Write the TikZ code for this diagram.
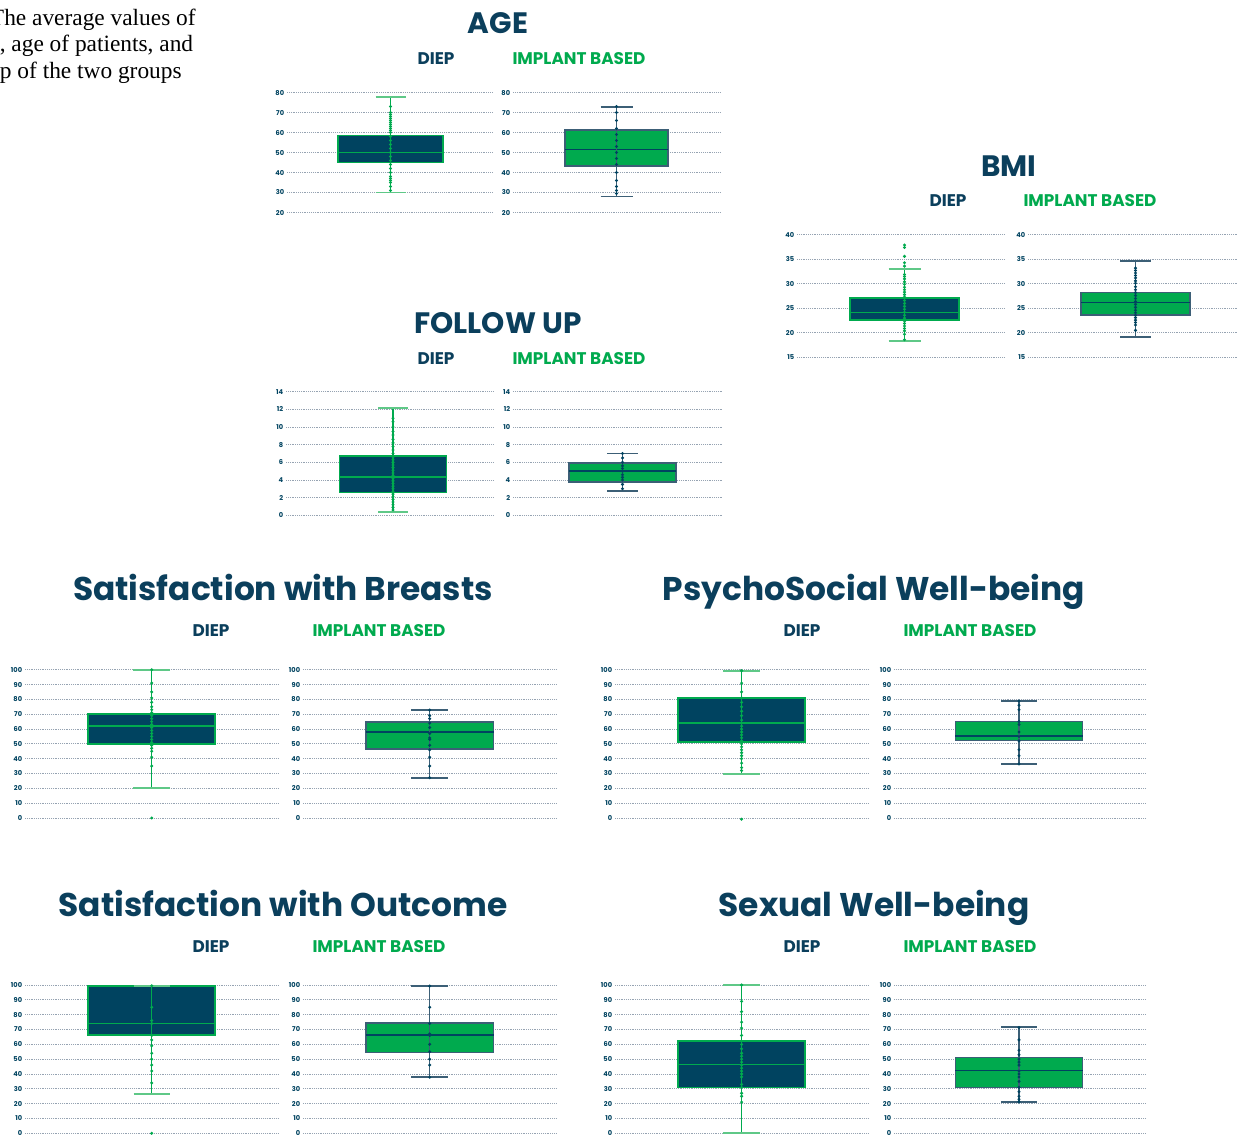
\documentclass[tikz,border=0pt]{standalone}
\usepackage{fontspec}
\setmainfont{Liberation Serif}
\setsansfont{Poppins}
\usepackage{tikz}
\usetikzlibrary{positioning}
\definecolor{DiepBlue}{RGB}{0,67,96}
\definecolor{TitleBlue}{RGB}{11,63,92}
\definecolor{ImplGreen}{RGB}{0,170,78}
\definecolor{CapGreen}{RGB}{95,200,135}
\definecolor{SlateLine}{RGB}{60,95,118}
\definecolor{GridGray}{RGB}{150,163,178}
\tikzset{
  % panel titles (mixed case and all caps)
  ptitle/.style={font=\sffamily\bfseries\fontsize{18.7}{21}\selectfont, text=TitleBlue, inner sep=0pt, anchor=base},
  ctitle/.style={ptitle, font=\sffamily\bfseries\fontsize{16.8}{19}\selectfont},
  % group headers
  gdiep/.style={font=\sffamily\bfseries\fontsize{9.6}{11}\selectfont, text=TitleBlue, inner sep=0pt},
  gimpl/.style={font=\sffamily\bfseries\fontsize{9.6}{11}\selectfont, text=ImplGreen, inner sep=0pt},
  % axis
  ticklabel/.style={font=\sffamily\bfseries\fontsize{3.8}{4}\selectfont, text=DiepBlue, inner sep=0pt, anchor=east},
  gridline/.style={draw=GridGray, line width=0.45pt, dash pattern=on 0.45pt off 0.6pt},
  % caption lines
  capline/.style={font=\fontsize{13.3}{15}\selectfont, inner sep=0pt, anchor=base east},
  % colour sets of the two groups
  diep/.style={
    boxbody/.style={fill=DiepBlue, draw=ImplGreen, line width=0.9pt},
    boxmed/.style={draw=ImplGreen, line width=0.8pt},
    boxwhisk/.style={draw=ImplGreen, line width=0.7pt},
    boxcap/.style={draw=CapGreen, line width=1.1pt},
    boxdot/.style={fill=ImplGreen}},
  implant/.style={
    boxbody/.style={fill=ImplGreen, draw=SlateLine, line width=0.9pt},
    boxmed/.style={draw=DiepBlue, line width=0.8pt},
    boxwhisk/.style={draw=SlateLine, line width=0.8pt},
    boxcap/.style={draw=SlateLine, line width=1.1pt},
    boxdot/.style={fill=DiepBlue}}
}
% dotted grid with its tick labels
\newcommand{\gridpanel}[4]{%
  \foreach \t in {#3} {
    \draw[gridline] (#1,\t) -- (#2,\t);
    \node[ticklabel] (#4-\t) at (#1-2.5,\t) {\t};
  }%
}
% box, median, whiskers, caps and points
\newcommand{\whiskbox}[9]{%
  \draw[boxbody] (#1-#2,#5) rectangle (#1+#2,#7);
  \draw[boxmed] (#1-#2,#6) -- (#1+#2,#6);
  \draw[boxwhisk] (#1,#4) -- (#1,#8);
  \draw[boxcap] (#1-#3,#4) -- (#1+#3,#4);
  \draw[boxcap] (#1-#3,#8) -- (#1+#3,#8);
  \foreach \p in {#9} \fill[boxdot] (#1,\p) circle (0.95pt);
}
\begin{document}
\begin{tikzpicture}[x=0.02cm, y=-0.02cm]
  \useasboundingbox[fill=white] (0,0) rectangle (1238,1136);

  % caption fragment
  \node[capline] (cap1) at (196,25) {The average values of};
  \node[capline] (cap2) at (193.5,51.5) {, age of patients, and};
  \node[capline] (cap3) at (182,78) {p of the two groups};

  % AGE
  \node[ctitle] (ageT) at (498,33) {AGE};
  \node[gdiep] (ageD) at (436,59) {DIEP};
  \node[gimpl] (ageI) at (579,59) {IMPLANT BASED};
  \begin{scope}[shift={(0,252.5)}, y=0.04cm]
    \gridpanel{287}{493}{20,30,...,80}{agel}
    \gridpanel{513}{720}{20,30,...,80}{ager}
    \begin{scope}[diep]
      \whiskbox{390.5}{52.5}{15}{30}{45}{50}{58.5}{78}{31,33,35,36,37,38,40,42,44,46,48,50,52,54,56,58,60,61,62,63,64,65,66,67,68,69,70,73}
    \end{scope}
    \begin{scope}[implant]
      \whiskbox{616.5}{51.5}{16}{28}{43.2}{51.6}{61.2}{73}{29.5,31,33,36,40,44,47,50,53,56,59,62,66,70,73}
    \end{scope}
  \end{scope}

  % BMI
  \node[ctitle] (bmiT) at (1009,176) {BMI};
  \node[gdiep] (bmiD) at (948,201) {DIEP};
  \node[gimpl] (bmiI) at (1090,201) {IMPLANT BASED};
  \begin{scope}[shift={(0,430.9)}, y=0.09808cm]
    \gridpanel{797}{1005}{15,20,...,40}{bmil}
    \gridpanel{1028}{1238}{15,20,...,40}{bmir}
    \begin{scope}[diep]
      \whiskbox{904.5}{54.5}{16}{18.4}{22.6}{24.2}{27.1}{33}{18.6,19.7,20.4,20.9,21.4,21.9,22.4,23,23.6,24.2,24.8,25.4,26,26.6,27.3,27.8,28.3,28.8,29.3,29.9,30.4,31,31.5,31.9,33.6,34.3,35.6,37.4,37.9}
    \end{scope}
    \begin{scope}[implant]
      \whiskbox{1135.5}{54.5}{15.5}{19.2}{23.6}{26.2}{28.2}{34.6}{20.5,21.6,22.1,22.6,23.1,23.6,24.1,24.6,25.2,25.8,26.4,27,27.6,28.2,28.8,29.4,30.1,30.6,31.2,31.7,32.2,32.7,33.2}
    \end{scope}
  \end{scope}

  % FOLLOW UP
  \node[ctitle] (fupT) at (498,333) {FOLLOW UP};
  \node[gdiep] (fupD) at (436,359) {DIEP};
  \node[gimpl] (fupI) at (579,359) {IMPLANT BASED};
  \begin{scope}[shift={(0,515.3)}, y=0.1766cm]
    \gridpanel{286}{494}{0,2,...,14}{fupl}
    \gridpanel{513}{722}{0,2,...,14}{fupr}
    \begin{scope}[diep]
      \whiskbox{393}{53.5}{15}{0.35}{2.6}{4.35}{6.7}{12.2}{0.6,0.9,1.2,1.5,1.8,2.1,2.4,2.7,3,3.3,3.6,3.9,4.2,4.5,4.8,5.1,5.4,5.7,6,6.3,6.6,7,7.4,7.8,8.2,8.6,9.1,9.5,10,10.6,11}
    \end{scope}
    \begin{scope}[implant]
      \whiskbox{622.5}{53.5}{15.5}{2.8}{3.8}{5}{5.9}{7}{3,3.5,4,4.3,4.6,5,5.3,5.6,6,6.5,7}
    \end{scope}
  \end{scope}

  % Satisfaction with Breasts
  \node[ptitle] (sbrT) at (283,600) {Satisfaction with Breasts};
  \node[gdiep] (sbrD) at (211,631) {DIEP};
  \node[gimpl] (sbrI) at (379,631) {IMPLANT BASED};
  \begin{scope}[shift={(0,818)}, y=0.02966cm]
    \gridpanel{25}{278}{0,10,...,100}{sbrl}
    \gridpanel{303}{556}{0,10,...,100}{sbrr}
    \begin{scope}[diep]
      \whiskbox{151.7}{63.5}{18.3}{20.2}{50.1}{62}{70.3}{100}{0,35,41,45,47,49,51,53,55,57,59,61,63,65,67,69,71,73,75,78,81,85,91,100}
    \end{scope}
    \begin{scope}[implant]
      \whiskbox{429.7}{63.8}{18.3}{27.2}{46.7}{58}{64.7}{72.8}{27.2,35,41,46,49,53,54,57,61,64,67,69,72.8}
    \end{scope}
  \end{scope}

  % PsychoSocial Well-being
  \node[ptitle] (psyT) at (874,600) {PsychoSocial Well-being};
  \node[gdiep] (psyD) at (802,631) {DIEP};
  \node[gimpl] (psyI) at (970,631) {IMPLANT BASED};
  \begin{scope}[shift={(0,818)}, y=0.02966cm]
    \gridpanel{615}{869}{0,10,...,100}{psyl}
    \gridpanel{894}{1146}{0,10,...,100}{psyr}
    \begin{scope}[diep]
      \whiskbox{741.6}{63.6}{18.2}{29.5}{51.2}{64}{80.9}{99.3}{-0.8,32,34,37,40,42,44,46,48,50,52,54,56,58,60,62,64,66,69,72,75,78,81,85,91,99.3}
    \end{scope}
    \begin{scope}[implant]
      \whiskbox{1019}{63.6}{18}{36.4}{52.3}{55.2}{65.2}{78.9}{36.4,42,46,52,55,58,63,65,73,76,78.9}
    \end{scope}
  \end{scope}

  % Satisfaction with Outcome
  \node[ptitle] (souT) at (283,916) {Satisfaction with Outcome};
  \node[gdiep] (souD) at (211,947) {DIEP};
  \node[gimpl] (souI) at (379,947) {IMPLANT BASED};
  \begin{scope}[shift={(0,1133.3)}, y=0.02966cm]
    \gridpanel{25}{278}{0,10,...,100}{soul}
    \gridpanel{303}{556}{0,10,...,100}{sour}
    \begin{scope}[diep]
      \whiskbox{151.7}{63.5}{18}{26.2}{66.2}{74.2}{99.5}{99.5}{0,34,42,46,50,54,59,63,66,74,76,85,99.5}
    \end{scope}
    \begin{scope}[implant]
      \whiskbox{429.7}{63.8}{18.3}{37.8}{54.5}{66.2}{74.3}{99.3}{37.8,46,50,55,60,66,67,74,85,99.3}
    \end{scope}
  \end{scope}

  % Sexual Well-being
  \node[ptitle] (sexT) at (874,916) {Sexual Well-being};
  \node[gdiep] (sexD) at (802,947) {DIEP};
  \node[gimpl] (sexI) at (970,947) {IMPLANT BASED};
  \begin{scope}[shift={(0,1133.3)}, y=0.02966cm]
    \gridpanel{615}{869}{0,10,...,100}{sexl}
    \gridpanel{894}{1146}{0,10,...,100}{sexr}
    \begin{scope}[diep]
      \whiskbox{741.6}{63.6}{18.2}{0}{30.9}{46.4}{62.4}{100}{21,25,27,31,33,38,40,42,44,46,48,50,52,54,57,60,66,71,75,82,89,100}
    \end{scope}
    \begin{scope}[implant]
      \whiskbox{1019}{63.6}{18}{21.2}{30.9}{42.3}{51.2}{71.4}{21.2,23,25,28,31,35,38,40,42,46,48,50,53,56,63,71.4}
    \end{scope}
  \end{scope}
\end{tikzpicture}
\end{document}
